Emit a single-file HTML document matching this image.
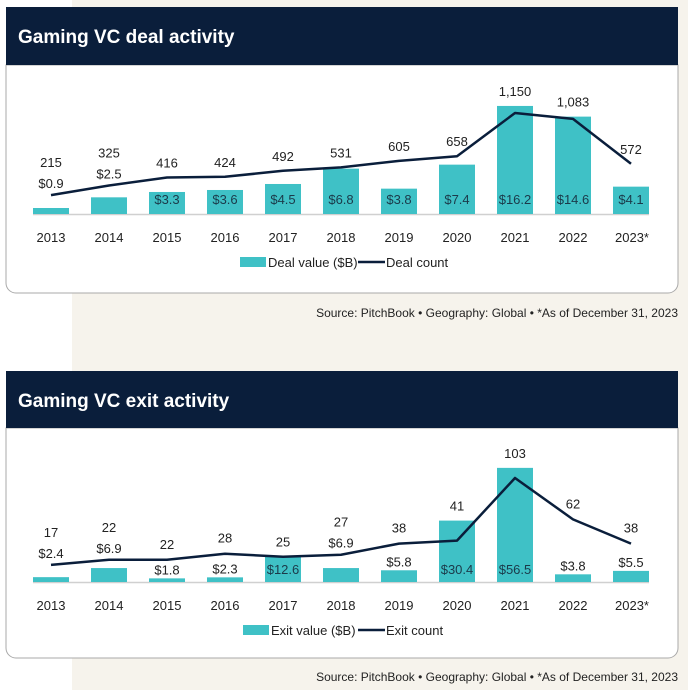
<!DOCTYPE html>
<html><head><meta charset="utf-8"><style>
html,body{margin:0;padding:0;width:688px;height:690px;overflow:hidden;background:#fff}
svg text{font-family:"Liberation Sans Narrow","Liberation Sans",sans-serif}
</style></head><body>
<svg id="s" width="688" height="690" xmlns="http://www.w3.org/2000/svg">
<rect x="72" y="0" width="616" height="690" fill="#f6f3ec"/>
<g>
<path d="M6,65 H678 V283 a10,10 0 0 1 -10,10 H16 a10,10 0 0 1 -10,-10 Z" fill="#fff" stroke="#a9a9a9" stroke-width="1"/>
<rect x="6" y="7" width="672" height="58" fill="#0a1e3b"/>
<text x="18" y="43" fill="#fff" font-size="19" font-weight="bold" style="font-family:'Liberation Sans',sans-serif">Gaming VC deal activity</text>
</g>
<text x="678" y="317" text-anchor="end" font-size="12" fill="#222">Source: PitchBook • Geography: Global • *As of December 31, 2023</text>
<g>
<path d="M6,428 H678 V648 a10,10 0 0 1 -10,10 H16 a10,10 0 0 1 -10,-10 Z" fill="#fff" stroke="#a9a9a9" stroke-width="1"/>
<rect x="6" y="371" width="672" height="57" fill="#0a1e3b"/>
<text x="18" y="407" fill="#fff" font-size="19" font-weight="bold" style="font-family:'Liberation Sans',sans-serif">Gaming VC exit activity</text>
</g>
<text x="678" y="681" text-anchor="end" font-size="12" fill="#222">Source: PitchBook • Geography: Global • *As of December 31, 2023</text>
</svg>
<script>
const years=["2013","2014","2015","2016","2017","2018","2019","2020","2021","2022","2023*"];
const dealValues=[0.9,2.5,3.3,3.6,4.5,6.8,3.8,7.4,16.2,14.6,4.1];
const dealCounts=[215,325,416,424,492,531,605,658,1150,1083,572];
const dealCountLabels=["215","325","416","424","492","531","605","658","1,150","1,083","572"];
const exitValues=[2.4,6.9,1.8,2.3,12.6,6.9,5.8,30.4,56.5,3.8,5.5];
const exitCounts=[17,22,22,28,25,27,38,41,103,62,38];
const exitCountLabels=["17","22","22","28","25","27","38","41","103","62","38"];
const NS="http://www.w3.org/2000/svg";
const svg=document.getElementById('s');
function mk(tag,attrs,parent){const e=document.createElementNS(NS,tag);for(const k in attrs)e.setAttribute(k,attrs[k]);(parent||svg).appendChild(e);return e;}
function draw(cfg){
  const g=mk('g',{});
  
  
  const x=i=>51+i*58;
  const yV=v=>cfg.base-v*cfg.vs;
  const yC=c=>cfg.base-c*cfg.cs;
  const ax=mk('line',{x1:33,x2:649,y1:cfg.base+0.5,y2:cfg.base+0.5,stroke:'#d0d0d0','stroke-width':1.5},g);
  
  
  cfg.values.forEach((v,i)=>{
    const r=mk('rect',{x:x(i)-18,y:yV(v),width:36,height:cfg.base-yV(v),fill:'#3fc1c6'},g);
    
    
  });
  let pts=cfg.counts.map((c,i)=>x(i)+','+yC(c)).join(' ');
  const pl=mk('polyline',{points:pts,fill:'none',stroke:'#0a1e3b','stroke-width':2.5,'stroke-linejoin':'round'},g);
  
  
  cfg.values.forEach((v,i)=>{
    const top=yV(v),pt=yC(cfg.counts[i]),h=cfg.base-top;
    const vl='$'+v.toFixed(1);
    let vy,cy,inside=false;
    if(h>=20){vy=cfg.base-cfg.inOff;inside=true;cy=Math.min(top,pt)-10;}
    else if(top-14-pt>=3){vy=top-4;cy=pt-11;}
    else{vy=pt-7;cy=pt-28;}
    const t1=mk('text',{x:x(i),y:vy,'text-anchor':'middle','font-size':13,fill:inside?'#1b3a4a':'#222'},g);
    t1.textContent=vl;
    
    
    const t2=mk('text',{x:x(i),y:cy,'text-anchor':'middle','font-size':13,fill:'#222'},g);
    t2.textContent=cfg.countLabels[i];
    
    
    const t3=mk('text',{x:x(i)+(i==10?1:0),y:cfg.base+28,'text-anchor':'middle','font-size':13,fill:'#222'},g);
    t3.textContent=years[i];
    
    
  });
  const ly=cfg.base+48;
  const lr=mk('rect',{x:cfg.lx,y:ly-5,width:26,height:10,fill:'#3fc1c6'},g);
  
  
  const lt=mk('text',{x:cfg.lx+28,y:ly+5,'font-size':13,fill:'#222'},g);
  lt.textContent=cfg.vLabel;
  
  
  const ll=mk('line',{x1:cfg.lx2,x2:cfg.lx2+27,y1:ly,y2:ly,stroke:'#0a1e3b','stroke-width':2.5},g);
  
  
  const lt2=mk('text',{x:cfg.lx2+28,y:ly+5,'font-size':13,fill:'#222'},g);
  lt2.textContent=cfg.cLabel;
  
  
}
draw({name:'deal',base:214,vs:6.67,cs:0.0878,inOff:10,values:dealValues,counts:dealCounts,countLabels:dealCountLabels,lx:240,lx2:358,vLabel:'Deal value ($B)',cLabel:'Deal count'});
draw({name:'exit',base:582,vs:2.02,cs:1.01,inOff:8,values:exitValues,counts:exitCounts,countLabels:exitCountLabels,lx:243,lx2:358,vLabel:'Exit value ($B)',cLabel:'Exit count'});
</script>
</body></html>
